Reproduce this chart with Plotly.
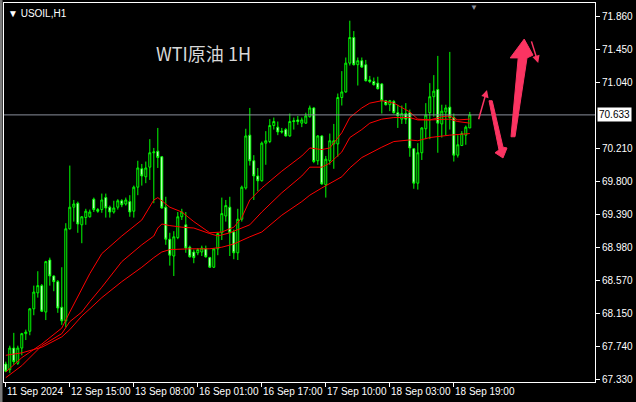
"""USOIL H1 candlestick chart in MetaTrader style."""
import plotly.graph_objects as go

# ---- candle data (one bar per hour, 11 Sep 22:00 .. 18 Sep 23:00) ----
opens = [
    67.52, 67.45, 67.72, 67.53, 67.72, 67.90, 67.93, 68.21, 68.41, 68.50,
    68.17, 68.82, 68.62, 68.55, 68.23, 68.06, 69.21, 69.48, 69.53, 69.26,
    69.35, 69.36, 69.58, 69.45, 69.45, 69.60, 69.48, 69.42, 69.48, 69.56,
    69.52, 69.55, 69.43, 69.73, 69.96, 69.86, 69.98, 70.16, 70.18, 70.11,
    69.48, 69.08, 68.87, 69.10, 69.36, 69.26, 68.98, 68.92, 68.91, 68.92,
    68.96, 68.85, 68.73, 68.96, 69.16, 69.37, 69.48, 69.17, 68.91, 69.33,
    69.72, 70.38, 70.06, 69.87, 69.81, 70.28, 70.30, 70.50, 70.48, 70.43,
    70.45, 70.37, 70.56, 70.57, 70.53, 70.53, 70.61, 70.72, 70.06, 70.37,
    69.76, 70.06, 70.27, 70.27, 70.85, 70.92, 71.28, 71.60, 71.26, 71.31,
    71.26, 71.07, 71.05, 71.03, 71.02, 70.81, 70.76, 70.80, 70.66, 70.58,
    70.65, 70.66, 70.21, 69.78, 70.16, 70.46, 70.66, 70.86, 70.95, 70.52,
    70.67, 70.73, 70.60, 70.13, 70.25, 70.38, 70.47,
]
highs = [
    67.55, 67.75, 67.91, 67.75, 67.91, 67.95, 68.22, 68.50, 68.68, 68.52,
    68.81, 68.85, 68.63, 68.57, 68.73, 69.28, 70.00, 69.57, 69.55, 69.37,
    69.46, 69.45, 69.60, 69.47, 69.65, 69.65, 69.50, 69.56, 69.58, 69.58,
    69.60, 69.63, 69.75, 70.06, 70.02, 70.05, 70.33, 70.22, 70.47, 70.12,
    69.61, 69.16, 69.18, 69.42, 69.46, 69.42, 69.00, 68.95, 68.97, 69.00,
    69.00, 68.86, 68.97, 69.16, 69.60, 69.57, 69.61, 69.20, 69.46, 69.75,
    70.46, 70.72, 70.13, 69.97, 70.30, 70.43, 70.58, 70.60, 70.55, 70.47,
    70.47, 70.65, 70.60, 70.62, 70.60, 70.66, 70.75, 70.73, 70.38, 70.38,
    70.12, 70.40, 70.52, 70.90, 71.18, 71.35, 71.81, 71.68, 71.35, 71.35,
    71.32, 71.12, 71.10, 71.11, 71.03, 70.82, 70.82, 70.82, 70.76, 70.75,
    70.78, 70.70, 70.22, 70.28, 70.48, 70.78, 71.03, 71.13, 71.37, 70.76,
    70.76, 71.42, 70.65, 70.38, 70.43, 70.50, 70.67,
]
lows = [
    67.42, 67.41, 67.51, 67.51, 67.63, 67.82, 67.88, 68.13, 68.35, 68.17,
    68.07, 68.50, 68.43, 68.16, 68.01, 67.98, 69.20, 69.30, 69.16, 69.03,
    69.26, 69.35, 69.42, 69.41, 69.41, 69.35, 69.35, 69.40, 69.45, 69.48,
    69.50, 69.36, 69.35, 69.63, 69.75, 69.78, 69.82, 69.53, 69.97, 69.46,
    69.01, 68.75, 68.62, 69.08, 69.32, 68.91, 68.85, 68.78, 68.88, 68.87,
    68.85, 68.72, 68.72, 68.88, 69.07, 69.30, 68.87, 68.83, 68.82, 69.30,
    69.70, 70.00, 69.57, 69.68, 69.80, 70.01, 70.28, 70.45, 70.38, 70.40,
    70.36, 70.36, 70.45, 70.51, 70.48, 70.52, 70.60, 70.03, 70.01, 69.76,
    69.60, 70.01, 69.96, 70.11, 70.75, 70.91, 71.25, 71.25, 71.00, 71.22,
    71.05, 71.03, 71.00, 70.95, 70.65, 70.75, 70.68, 70.65, 70.47, 70.52,
    70.52, 70.11, 69.71, 69.70, 70.07, 70.33, 70.33, 70.61, 70.16, 70.35,
    70.38, 70.45, 70.05, 70.10, 70.25, 70.26, 70.47,
]
closes = [
    67.43, 67.72, 67.55, 67.72, 67.90, 67.92, 68.21, 68.42, 68.50, 68.18,
    68.80, 68.62, 68.55, 68.22, 68.06, 69.21, 69.48, 69.52, 69.27, 69.36,
    69.43, 69.42, 69.45, 69.43, 69.57, 69.47, 69.42, 69.47, 69.56, 69.51,
    69.57, 69.42, 69.73, 69.97, 69.87, 69.97, 70.16, 70.17, 70.10, 69.47,
    69.08, 68.88, 69.11, 69.36, 69.42, 68.97, 68.86, 68.85, 68.95, 68.97,
    68.86, 68.73, 68.96, 69.15, 69.40, 69.50, 69.16, 68.91, 69.33, 69.73,
    70.37, 70.06, 69.87, 69.81, 70.28, 70.31, 70.50, 70.55, 70.42, 70.42,
    70.37, 70.55, 70.55, 70.55, 70.57, 70.62, 70.72, 70.05, 70.37, 69.77,
    70.08, 70.31, 70.31, 70.85, 70.92, 71.28, 71.60, 71.26, 71.31, 71.23,
    71.06, 71.05, 71.01, 70.96, 70.81, 70.76, 70.81, 70.66, 70.62, 70.65,
    70.58, 70.22, 69.78, 70.16, 70.47, 70.63, 70.86, 70.93, 70.53, 70.68,
    70.72, 70.60, 70.13, 70.26, 70.40, 70.48, 70.633,
]

# ---- moving averages (read at sample bars) ----
fast_idx = [0, 4, 9, 14, 16, 19, 21, 24, 29, 34, 37, 38, 41, 44, 47, 51, 54, 57, 59, 61,
            64, 69, 74, 76, 79, 81, 84, 86, 89, 91, 94, 97, 99, 101, 103, 106, 109, 111, 113, 116]
fast_val = [67.42, 67.60, 67.77, 67.97, 68.17, 68.46, 68.65, 68.90, 69.12, 69.32,
            69.57, 69.60, 69.48, 69.42, 69.30, 69.16, 69.17, 69.23, 69.35, 69.57,
            69.72, 69.93, 70.12, 70.22, 70.20, 70.22, 70.41, 70.60, 70.72, 70.78,
            70.81, 70.78, 70.73, 70.67, 70.58, 70.57, 70.61, 70.62, 70.57, 70.58]
mid_idx = [0, 4, 9, 14, 16, 19, 21, 24, 29, 34, 37, 38, 39, 41, 44, 47, 51, 53, 56, 59,
           61, 64, 69, 74, 76, 79, 81, 84, 86, 89, 91, 94, 97, 101, 103, 106, 109, 111, 113, 116]
mid_val = [67.35, 67.50, 67.75, 67.90, 68.05, 68.17, 68.30, 68.48, 68.80, 69.01,
           69.12, 69.22, 69.27, 69.25, 69.23, 69.22, 69.15, 69.12, 69.16, 69.22,
           69.26, 69.42, 69.66, 69.87, 69.98, 69.98, 70.03, 70.17, 70.35, 70.45,
           70.53, 70.58, 70.60, 70.60, 70.57, 70.57, 70.58, 70.58, 70.55, 70.53]
slow_idx = [0, 4, 9, 14, 16, 19, 21, 24, 29, 34, 37, 39, 41, 46, 51, 54, 57, 59, 61, 64,
            69, 74, 76, 79, 81, 84, 86, 89, 94, 97, 101, 103, 106, 109, 111, 116]
slow_val = [67.63, 67.66, 67.73, 67.86, 67.95, 68.12, 68.21, 68.35, 68.55, 68.73,
            68.85, 68.92, 68.95, 68.96, 68.96, 68.98, 69.02, 69.07, 69.11, 69.17,
            69.38, 69.55, 69.63, 69.72, 69.78, 69.86, 69.97, 70.10, 70.23, 70.30,
            70.32, 70.31, 70.35, 70.37, 70.38, 70.40]

# ---- axes ----
time_tick_bars = [0, 16, 32, 48, 64, 80, 96, 112]
time_labels = ["11 Sep 2024", "12 Sep 15:00", "13 Sep 08:00", "16 Sep 01:00",
               "16 Sep 17:00", "17 Sep 10:00", "18 Sep 03:00", "18 Sep 19:00"]
price_ticks = [71.86, 71.45, 71.04, 70.21, 69.80, 69.39, 68.98, 68.57, 68.15, 67.74, 67.33]
current_price = 70.633

# hand drawn arrows (bar index, price)
arrow_up_big = [(126.3, 70.36), (127.3, 70.36), (130.3, 71.345), (131.8, 71.38),
                (129.6, 71.58), (126.1, 71.345), (128.1, 71.345)]
arrow_down = [(120.8, 70.81), (121.6, 70.81), (124.3, 70.23), (125.3, 70.22),
              (124.3, 70.095), (122.3, 70.16), (123.3, 70.195)]
thin_arrows = [((118.1, 70.56), (120.3, 70.945)), ((131.3, 71.57), (133.1, 71.28))]

FONT = "Liberation Sans"
PINK = "#fb3462"
CANDLE = "#00ff00"


def path_from(points):
    """Closed SVG path through the given data points."""
    return "M " + " L ".join(f"{x},{y}" for x, y in points) + " Z"


def create_chart() -> go.Figure:
    fig = go.Figure()

    for idx, val in ((slow_idx, slow_val), (mid_idx, mid_val), (fast_idx, fast_val)):
        fig.add_trace(
            go.Scatter(
                x=idx,
                y=val,
                mode="lines",
                line=dict(color="#ff0000", width=1),
                hoverinfo="skip",
            )
        )

    fig.add_trace(
        go.Candlestick(
            x=list(range(len(closes))),
            open=opens,
            high=highs,
            low=lows,
            close=closes,
            increasing=dict(line=dict(color=CANDLE, width=1), fillcolor="black"),
            decreasing=dict(line=dict(color=CANDLE, width=1), fillcolor="white"),
            whiskerwidth=0,
            hoverinfo="skip",
        )
    )

    # current price line
    fig.add_shape(
        type="line", xref="paper", x0=0, x1=1, yref="y", y0=current_price, y1=current_price,
        line=dict(color="#8a8f9c", width=1),
    )
    # grey strip on the far left
    fig.add_shape(
        type="rect", xref="paper", x0=-4 / 591, x1=-1.5 / 591, yref="paper", y0=-20 / 379, y1=1.01,
        fillcolor="#7a7a7a", line=dict(width=0),
    )
    for pts in (arrow_up_big, arrow_down):
        fig.add_shape(
            type="path", xref="x", yref="y", path=path_from(pts),
            fillcolor=PINK, line=dict(color=PINK, width=1),
        )

    annotations = []
    for (x0, y0), (x1, y1) in thin_arrows:
        annotations.append(dict(
            x=x1, y=y1, ax=x0, ay=y0, xref="x", yref="y", axref="x", ayref="y",
            text="", showarrow=True, arrowhead=2, arrowsize=1, arrowwidth=1.5,
            arrowcolor=PINK,
        ))

    for bar, label in zip(time_tick_bars, time_labels):
        annotations.append(dict(
            x=bar, y=0, xref="x", yref="paper", text=label, showarrow=False,
            xanchor="left", yanchor="top", xshift=-1, yshift=-2,
            font=dict(family=FONT, size=10, color="white"),
        ))

    annotations += [
        dict(x=0, y=1, xref="paper", yref="paper", text="▼ USOIL,H1", showarrow=False,
             xanchor="left", yanchor="top", xshift=2, yshift=-3,
             font=dict(family=FONT, size=10, color="white")),
        dict(x=0.338, y=0.908, xref="paper", yref="paper", text="WTI原油 1H", showarrow=False,
             font=dict(family="Noto Sans CJK SC", size=18, color="#d8d8d8")),
        dict(x=1, y=current_price, xref="paper", yref="y", text=f"{current_price:.3f}",
             showarrow=False, xanchor="left", xshift=2, bgcolor="white", borderpad=1,
             font=dict(family=FONT, size=10, color="black")),
        dict(x=117.1, y=1, xref="x", yref="paper", text="▼", showarrow=False,
             yanchor="top", yshift=2, font=dict(family=FONT, size=8, color="#8a8f9c")),
    ]

    fig.update_layout(
        width=636,
        height=402,
        paper_bgcolor="black",
        plot_bgcolor="black",
        margin=dict(l=4, r=41, t=3, b=20),
        showlegend=False,
        annotations=annotations,
        xaxis=dict(
            range=[-0.45, 147.3],
            rangeslider=dict(visible=False),
            showgrid=False,
            zeroline=False,
            showline=True,
            linecolor="white",
            linewidth=1,
            mirror=True,
            ticks="outside",
            ticklen=4,
            tickcolor="white",
            tickvals=time_tick_bars,
            showticklabels=False,
        ),
        yaxis=dict(
            range=[67.296, 72.031],
            side="right",
            showgrid=False,
            zeroline=False,
            showline=True,
            linecolor="white",
            linewidth=1,
            mirror=True,
            ticks="outside",
            ticklen=4,
            tickcolor="white",
            tickvals=price_ticks,
            ticktext=[f"{v:.3f}" for v in price_ticks],
            tickfont=dict(family=FONT, size=10, color="white"),
        ),
    )
    return fig


fig = create_chart()
fig.write_html(
    "out.html",
    config=dict(displayModeBar=False),
    post_script="document.body.style.margin='0';",
)
